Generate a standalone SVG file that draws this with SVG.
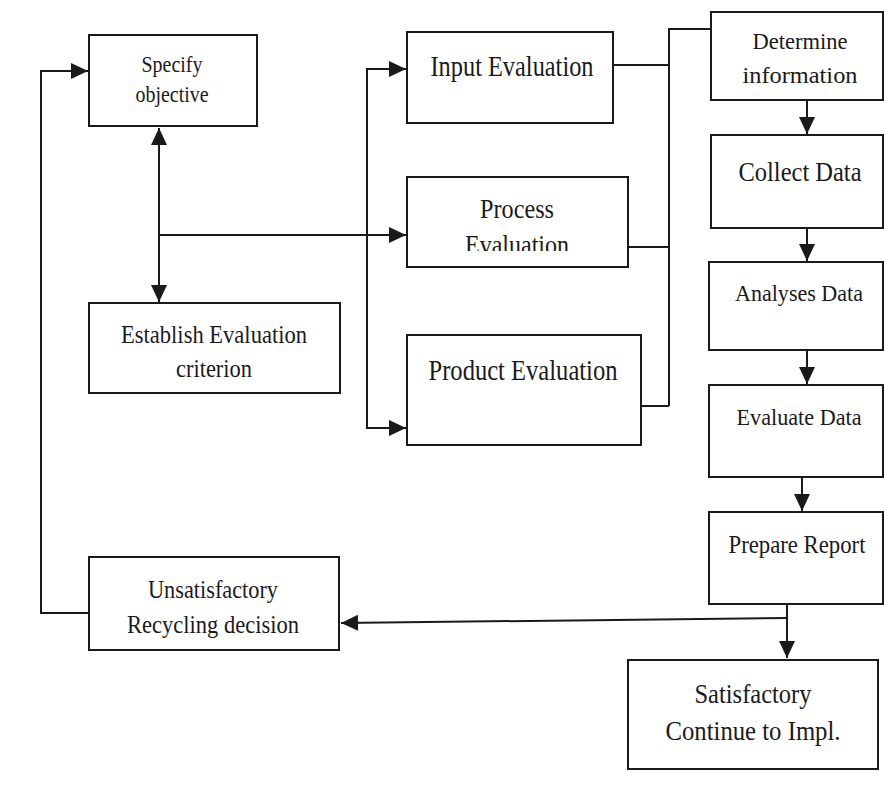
<svg xmlns="http://www.w3.org/2000/svg" width="885" height="810" viewBox="0 0 885 810">
<style>
rect.box{fill:#fff;stroke:#1a1a1a;stroke-width:2}
.c{fill:none;stroke:#1a1a1a;stroke-width:2}
text{font-family:"Liberation Serif","Times New Roman",serif;fill:#1a1a1a;text-anchor:middle}
</style>
<defs>
<marker id="ah" markerUnits="userSpaceOnUse" markerWidth="18" markerHeight="16" refX="17" refY="8" orient="auto-start-reverse">
<path d="M0,0 L17,8 L0,16 z" fill="#1a1a1a"/>
</marker>
<clipPath id="clipProc"><rect x="400" y="170" width="240" height="81"/></clipPath>
</defs>
<rect width="885" height="810" fill="#fff"/>
<g id="connectors">
<path class="c" d="M89,613 H41 V71 H88" marker-end="url(#ah)"/>
<path class="c" d="M159,128 V302" marker-start="url(#ah)" marker-end="url(#ah)"/>
<path class="c" d="M159,235 H406" marker-end="url(#ah)"/>
<path class="c" d="M406,69 H367 V428 H406" marker-start="url(#ah)" marker-end="url(#ah)"/>
<path class="c" d="M613,65 H669 M628,247 H669 M641,406 H669 M669,406 V29 H711"/>
<path class="c" d="M807,100 V134" marker-end="url(#ah)"/>
<path class="c" d="M807,228 V261" marker-end="url(#ah)"/>
<path class="c" d="M807,350 V384" marker-end="url(#ah)"/>
<path class="c" d="M802,477 V511" marker-end="url(#ah)"/>
<path class="c" d="M787,604 V658" marker-end="url(#ah)"/>
<path class="c" d="M787,618 L341,623" marker-end="url(#ah)"/>
</g>
<g id="specify"><rect class="box" x="89" y="35" width="168" height="91"/>
<text x="172" y="72" font-size="24" textLength="61" lengthAdjust="spacingAndGlyphs">Specify</text><text x="172" y="102" font-size="24" textLength="73" lengthAdjust="spacingAndGlyphs">objective</text></g>
<g id="establish"><rect class="box" x="89" y="303" width="251" height="90"/>
<text x="214" y="343" font-size="25" textLength="186" lengthAdjust="spacingAndGlyphs">Establish Evaluation</text><text x="214" y="377" font-size="25" textLength="76" lengthAdjust="spacingAndGlyphs">criterion</text></g>
<g id="input"><rect class="box" x="407" y="32" width="206" height="91"/>
<text x="512" y="76" font-size="29" textLength="163" lengthAdjust="spacingAndGlyphs">Input Evaluation</text></g>
<g id="process"><rect class="box" x="407" y="177" width="221" height="90"/>
<text x="517" y="218" font-size="27" textLength="74" lengthAdjust="spacingAndGlyphs">Process</text>
<text x="517" y="254" font-size="27" textLength="104" lengthAdjust="spacingAndGlyphs" clip-path="url(#clipProc)">Evaluation</text></g>
<g id="product"><rect class="box" x="407" y="335" width="234" height="110"/>
<text x="523" y="380" font-size="29" textLength="189" lengthAdjust="spacingAndGlyphs">Product Evaluation</text></g>
<g id="determine"><rect class="box" x="711" y="12" width="172" height="88"/>
<text x="800" y="49" font-size="24" textLength="95" lengthAdjust="spacingAndGlyphs">Determine</text><text x="800" y="83" font-size="24" textLength="115" lengthAdjust="spacingAndGlyphs">information</text></g>
<g id="collect"><rect class="box" x="711" y="135" width="172" height="93"/>
<text x="800" y="181" font-size="27" textLength="123" lengthAdjust="spacingAndGlyphs">Collect Data</text></g>
<g id="analyses"><rect class="box" x="709" y="262" width="174" height="88"/>
<text x="799" y="301" font-size="24" textLength="128" lengthAdjust="spacingAndGlyphs">Analyses Data</text></g>
<g id="evaluate"><rect class="box" x="709" y="385" width="174" height="92"/>
<text x="799" y="425" font-size="24" textLength="125" lengthAdjust="spacingAndGlyphs">Evaluate Data</text></g>
<g id="report"><rect class="box" x="709" y="512" width="174" height="92"/>
<text x="797" y="553" font-size="25" textLength="137" lengthAdjust="spacingAndGlyphs">Prepare Report</text></g>
<g id="unsatisfactory"><rect class="box" x="89" y="557" width="250" height="93"/>
<text x="213" y="598" font-size="26" textLength="130" lengthAdjust="spacingAndGlyphs">Unsatisfactory</text><text x="213" y="633" font-size="26" textLength="172" lengthAdjust="spacingAndGlyphs">Recycling decision</text></g>
<g id="satisfactory"><rect class="box" x="628" y="660" width="250" height="109"/>
<text x="753" y="703" font-size="27" textLength="117" lengthAdjust="spacingAndGlyphs">Satisfactory</text><text x="753" y="740" font-size="27" textLength="175" lengthAdjust="spacingAndGlyphs">Continue to Impl.</text></g>
</svg>
